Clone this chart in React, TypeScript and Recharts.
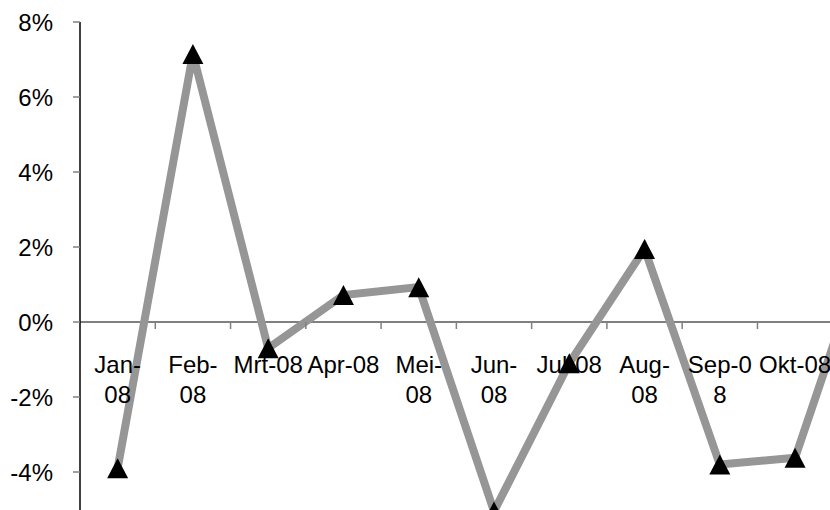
import { Line, LineChart, ReferenceLine, XAxis, YAxis } from 'recharts'

// monthly change, in percent
const CATEGORIES = ['Jan-08', 'Feb-08', 'Mrt-08', 'Apr-08', 'Mei-08', 'Jun-08', 'Jul-08', 'Aug-08', 'Sep-08', 'Okt-08', 'Nov-08']
const VALUES = [-3.9, 7.15, -0.7, 0.72, 0.93, -5.05, -1.1, 1.95, -3.8, -3.62, 2.3]
// how Excel wrapped the category labels
const TICK_LABELS = [
  ['Jan-', '08'],
  ['Feb-', '08'],
  ['Mrt-08'],
  ['Apr-08'],
  ['Mei-', '08'],
  ['Jun-', '08'],
  ['Jul-08'],
  ['Aug-', '08'],
  ['Sep-0', '8'],
  ['Okt-08'],
  ['Nov-08'],
]
const Y_TICKS = [-4, -2, 0, 2, 4, 6, 8]
const Y_DOMAIN: [number, number] = [-6, 8]

const FONT = '"Liberation Sans", Arial, sans-serif'
const CHART_W = 920
const CHART_H = 600
const MARGIN = { top: 22, right: 12, bottom: 13, left: 0 }
const Y_AXIS_W = 80
const X_AXIS_H = 40

const plotHeight = CHART_H - MARGIN.top - MARGIN.bottom - X_AXIS_H
const plotWidth = CHART_W - MARGIN.left - MARGIN.right - Y_AXIS_W
const bandWidth = plotWidth / CATEGORIES.length
// y pixel of the 0% line, from the axis domain
const zeroY =
  MARGIN.top + ((Y_DOMAIN[1] - 0) / (Y_DOMAIN[1] - Y_DOMAIN[0])) * plotHeight

const data = CATEGORIES.map((month, i) => ({ month, value: VALUES[i] }))

function CategoryTick(props: any) {
  const { x, index } = props
  const lines = TICK_LABELS[index] ?? [CATEGORIES[index]]
  return (
    <g>
      <line
        x1={x + bandWidth / 2}
        x2={x + bandWidth / 2}
        y1={zeroY}
        y2={zeroY + 7}
        stroke="#808080"
        strokeWidth={1.5}
      />
      {lines.map((t: string, i: number) => (
        <text
          key={i}
          x={x}
          y={zeroY + 51 + i * 30}
          textAnchor="middle"
          fontSize={24}
          fontFamily={FONT}
          fill="#000"
        >
          {t}
        </text>
      ))}
    </g>
  )
}

function TriangleDot(props: any) {
  const { cx, cy, index } = props
  if (cx == null || cy == null) return null
  return (
    <path
      key={`dot-${index}`}
      d={`M${cx},${cy - 10} L${cx + 10.5},${cy + 10} L${cx - 10.5},${cy + 10} Z`}
      fill="#000"
    />
  )
}

export default function App() {
  return (
    <div
      style={{
        position: 'absolute',
        left: 0,
        top: 0,
        width: 830,
        height: 510,
        overflow: 'hidden',
        background: '#fff',
      }}
    >
      <LineChart width={CHART_W} height={CHART_H} data={data} margin={MARGIN}>
        <YAxis
          width={Y_AXIS_W}
          domain={Y_DOMAIN}
          ticks={Y_TICKS}
          interval={0}
          tickFormatter={(v: number) => `${v}%`}
          tick={{ fill: '#000', fontSize: 24, fontFamily: FONT }}
          tickSize={7}
          tickMargin={20}
          tickLine={{ stroke: '#808080', strokeWidth: 1.5 }}
          axisLine={{ stroke: '#000', strokeWidth: 1.5 }}
        />
        <XAxis
          dataKey="month"
          height={X_AXIS_H}
          interval={0}
          padding={{ left: bandWidth / 2, right: bandWidth / 2 }}
          axisLine={false}
          tickLine={false}
          tick={<CategoryTick />}
        />
        <ReferenceLine y={0} stroke="#808080" strokeWidth={2} />
        <Line
          type="linear"
          dataKey="value"
          stroke="#969696"
          strokeWidth={8}
          strokeLinejoin="miter"
          dot={<TriangleDot />}
          activeDot={false}
          isAnimationActive={false}
        />
      </LineChart>
    </div>
  )
}
